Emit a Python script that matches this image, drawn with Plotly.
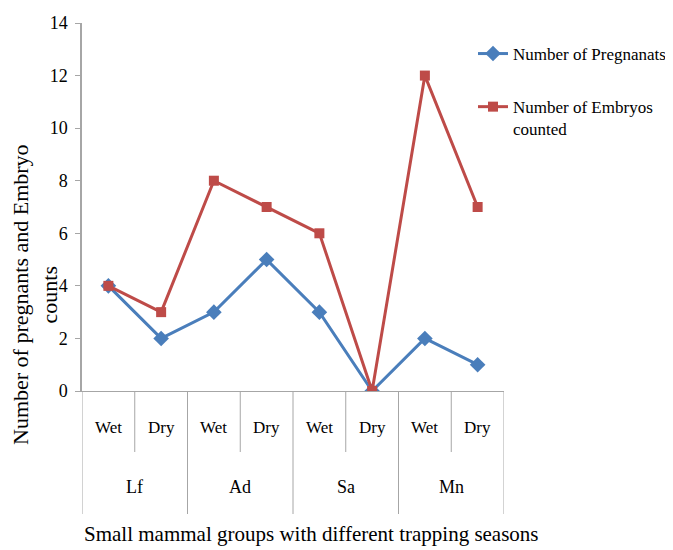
import plotly.graph_objects as go

groups = ["Lf", "Ad", "Sa", "Mn"]
seasons = ["Wet", "Dry"]
pregnants = [4, 2, 3, 5, 3, 0, 2, 1]
embryos = [4, 3, 8, 7, 6, 0, 12, 7]
series_names = ["Number of Pregnanats", "Number of Embryos<br>counted"]
y_ticks = [0, 2, 4, 6, 8, 10, 12, 14]

cats = [f"{g}-{s}" for g in groups for s in seasons]
xi = list(range(len(cats)))

FONT = "Liberation Serif"
BLUE = "#4A7EBB"
RED = "#BE4B48"
GRID = "#A6A6A6"

fig = go.Figure()
fig.add_trace(go.Scatter(
    x=xi, y=pregnants, mode="lines+markers", name=series_names[0],
    line=dict(color=BLUE, width=3),
    marker=dict(symbol="diamond", size=12, color=BLUE),
    legendgroup="a"))
fig.add_trace(go.Scatter(
    x=xi, y=embryos, mode="lines+markers", name=series_names[1],
    line=dict(color=RED, width=3),
    marker=dict(symbol="square", size=10, color=RED),
    legendgroup="b"))

# page has an 8px body margin; positions below are in page pixels
O = 8
W, H = 673, 550
L, R, T, B = 82 - O, 504 - O, 23 - O, 391 - O
ph = B - T
pw = R - L

def py(page_y):
    return 1 - (page_y - O - T) / ph

def px(page_x):
    return (page_x - O - L) / pw

shapes = []
annotations = []
nsub = len(seasons)
for i in range(len(cats) + 1):
    xb = i - 0.5
    long_line = (i % nsub == 0)
    shapes.append(dict(type="line", xref="x", yref="paper", x0=xb, x1=xb,
                       y0=0, y1=py(514) if long_line else py(452),
                       line=dict(color=GRID, width=1)))
for i, c in enumerate(cats):
    annotations.append(dict(text=seasons[i % nsub], x=i, xref="x", y=py(427), yref="paper",
                            showarrow=False, xanchor="center", yanchor="middle",
                            font=dict(family=FONT, size=17, color="black")))
for gi, g in enumerate(groups):
    annotations.append(dict(text=g, x=gi * nsub + (nsub - 1) / 2, xref="x", y=py(487), yref="paper",
                            showarrow=False, xanchor="center", yanchor="middle",
                            font=dict(family=FONT, size=18, color="black")))
annotations.append(dict(text="Small mammal groups with different trapping seasons",
                        x=px(311), xref="paper", y=py(534), yref="paper",
                        showarrow=False, xanchor="center", yanchor="middle",
                        font=dict(family=FONT, size=21, color="black")))
annotations.append(dict(text="Number of pregnants and Embryo<br>counts",
                        x=px(35), xref="paper", y=py(295), yref="paper",
                        textangle=-90, showarrow=False, xanchor="center", yanchor="middle",
                        align="center",
                        font=dict(family=FONT, size=22, color="black")))

fig.update_layout(
    width=W, height=H,
    margin=dict(l=L, r=W - R, t=T, b=H - B, autoexpand=False),
    paper_bgcolor="white", plot_bgcolor="white",
    showlegend=True,
    legend=dict(x=px(473), xanchor="left", y=py(36), yanchor="top",
                font=dict(family=FONT, size=17, color="black"),
                valign="top", tracegroupgap=28, itemwidth=30,
                bgcolor="rgba(0,0,0,0)"),
    xaxis=dict(range=[-0.5, len(cats) - 0.5], showticklabels=False, ticks="",
               showgrid=False, zeroline=False, showline=True, linecolor=GRID, linewidth=1),
    yaxis=dict(range=[0, 14], tickvals=y_ticks, ticks="outside", ticklen=5, tickcolor=GRID,
               ticklabelstandoff=4,
               showgrid=False, zeroline=False, showline=True, linecolor=GRID, linewidth=1.5,
               tickfont=dict(family=FONT, size=18, color="black")),
    shapes=shapes, annotations=annotations,
)

fig.write_html("out.html")
